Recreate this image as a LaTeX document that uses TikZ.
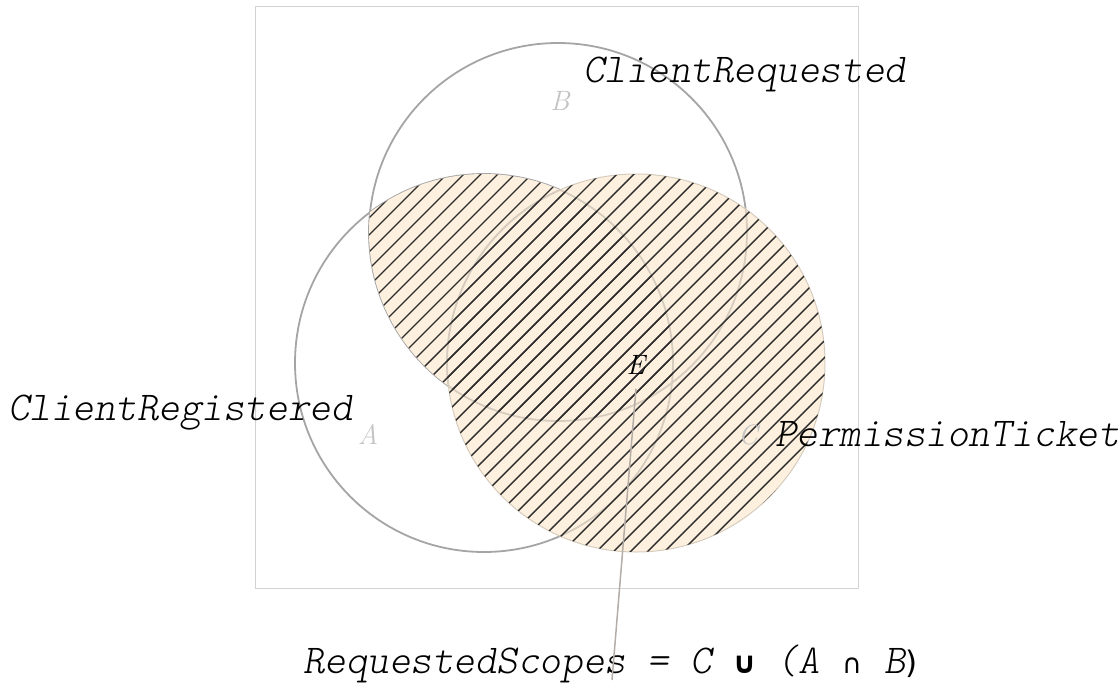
\documentclass[tikz,border=0pt]{standalone}
\usepackage{fontspec}
\newfontfamily\djv{DejaVu Sans}
\definecolor{cream}{RGB}{253,240,222}
\definecolor{ring}{RGB}{165,165,165}
\definecolor{ringin}{RGB}{214,204,190}
\definecolor{hatchc}{RGB}{45,45,45}
\definecolor{framec}{RGB}{210,210,210}
\definecolor{leadc}{RGB}{180,172,166}
\definecolor{faint}{RGB}{195,195,195}
\tikzset{
  ringline/.style={draw=ring, line width=1.8pt},
  innerline/.style={draw=ringin, line width=1.8pt},
  hatchline/.style={draw=hatchc, line width=1.4pt},
  setlabel/.style={anchor=base west, inner sep=0pt, font=\ttfamily\fontseries{l}\slshape\fontsize{41}{44}\selectfont},
  letterlabel/.style={inner sep=0pt, text=faint, font=\rmfamily\itshape\fontsize{28}{32}\selectfont},
}
\newcommand{\cellbox}[1]{\makebox[21.5pt][c]{#1}}
\begin{document}
\begin{tikzpicture}[x=1pt,y=-1pt]
\useasboundingbox (0,0) rectangle (1120,686);
\coordinate (cA) at (484,363);
\coordinate (cB) at (558,232);
\coordinate (cC) at (636,363);
% frame
\draw[framec, line width=1pt] (255,6) rectangle (858,588);
% circles
\draw[ringline] (cA) circle (189pt);
\draw[ringline] (cB) circle (189pt);
% fill of C union (A cap B)
\fill[cream] (cC) circle (189pt);
\begin{scope}
  \clip (cA) circle (189pt);
  \fill[cream] (cB) circle (189pt);
\end{scope}
% faint inner arcs
\begin{scope}
  \clip (cC) circle (189pt);
  \draw[innerline] (cA) circle (189pt);
  \draw[innerline] (cB) circle (189pt);
\end{scope}
\begin{scope}
  \clip (cA) circle (189pt);
  \clip (cB) circle (189pt);
  \draw[innerline] (cC) circle (189pt);
\end{scope}
\draw[draw=ringin, line width=1pt] (cC) circle (189pt);
% hatching
\begin{scope}
  \clip (cC) circle (189pt);
  \foreach \c in {570,587,...,1300} {\draw[hatchline] (\c,0) -- ({\c-700},700);}
\end{scope}
\begin{scope}
  \clip (cA) circle (189pt);
  \clip (cB) circle (189pt);
  \foreach \c in {570,587,...,1300} {\draw[hatchline] (\c,0) -- ({\c-700},700);}
\end{scope}
% letters
\node[letterlabel] (lA) at (368,434) {A};
\node[letterlabel] (lB) at (560,101) {B};
\node[letterlabel] (lC) at (748,435) {C};
\node[letterlabel, text=black] (E) at (636,365) {E};
% set labels
\node[setlabel] (treq) at (583,82) {ClientRequested};
\node[setlabel] (treg) at (8,420) {ClientRegistered};
\node[setlabel] (tperm) at (775,446) {PermissionTicket};
\node[setlabel] (tform) at (303,673) {RequestedScopes = C \cellbox{\djv\bfseries\upshape\fontsize{30}{32}\selectfont ∪} (A \cellbox{\djv\upshape\fontsize{27}{30}\selectfont ∩} B{\djv\upshape\fontsize{31}{32}\selectfont )}};
% leader
\coordinate (lend) at (612,680);
\draw[leadc, line width=1.5pt] ([yshift=-14pt]E.south) -- (lend);
\end{tikzpicture}
\end{document}
